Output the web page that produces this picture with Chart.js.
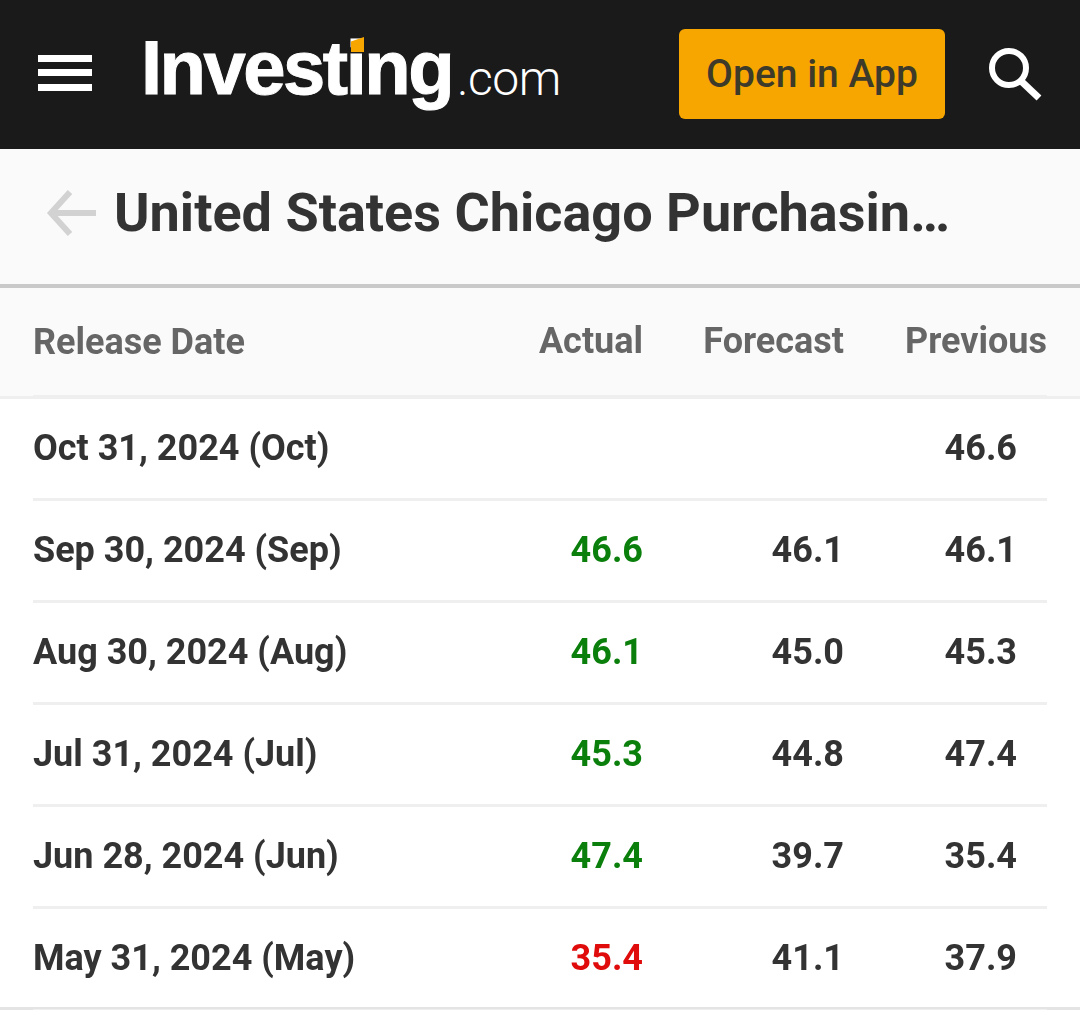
<!DOCTYPE html>
<html><head><meta charset="utf-8">
<script src="https://cdn.jsdelivr.net/npm/chart.js@4"></script>
<style>
html,body{margin:0;padding:0;background:#fff;width:1080px;height:1010px;overflow:hidden;font-family:Roboto,sans-serif}
.a{position:absolute;white-space:nowrap}
#chartBox{position:absolute;left:0;top:288px;width:1080px;height:722px}
</style></head><body>
<div class="a" style="left:0;top:0;width:1080px;height:149px;background:#1a1a1a"></div>
<div class="a" style="left:38px;top:55px;width:54px;height:7px;background:#fff"></div>
<div class="a" style="left:38px;top:69px;width:54px;height:7px;background:#fff"></div>
<div class="a" style="left:38px;top:84px;width:54px;height:7px;background:#fff"></div>
<div class="a" id="logo" style="left:141px;top:23px;color:#fff;font:700 76px/90px 'Liberation Sans';letter-spacing:-2.5px;-webkit-text-stroke:1px #fff">Investing</div>
<div class="a" style="left:457px;top:44px;color:#fff;font:300 48px/70px Roboto;letter-spacing:-0.5px">.com</div>
<div class="a" style="left:351px;top:37px;width:13px;height:15px;background:#f7a600;clip-path:polygon(0 30%,100% 0,100% 100%,0 100%)"></div>
<div class="a" style="left:679px;top:29px;width:266px;height:90px;background:#f7a600;border-radius:6px;color:#3d3a2a;font:500 39px/90px Roboto;text-align:center">Open in App</div>
<svg class="a" style="left:980px;top:40px" width="70" height="70"><circle cx="29" cy="28" r="17" fill="none" stroke="#fff" stroke-width="6"/><line x1="41" y1="41" x2="59" y2="58" stroke="#fff" stroke-width="7"/></svg>
<div class="a" style="left:0;top:149px;width:1080px;height:135px;background:#fafafa"></div>
<svg class="a" style="left:44px;top:185px" width="56" height="56"><path d="M26 7 L7 28 L26 49 M7 28 H52" fill="none" stroke="#d2d2d2" stroke-width="6"/></svg>
<div class="a" style="left:114px;top:180px;color:#333;font:700 54px/66px Roboto">United States Chicago Purchasin…</div>
<div class="a" style="left:0;top:284px;width:1080px;height:4px;background:#c9c9c9"></div>
<div class="a" style="left:0;top:288px;width:1080px;height:109px;background:#fafafa"></div>
<div class="a" style="left:0;top:396px;width:1080px;height:3px;background:#efefef"></div>
<div class="a" style="left:0;top:1007px;width:1080px;height:3px;background:#e4e4e4"></div>
<div id="chartBox"><canvas id="c"></canvas></div>
<script>
const releaseDates = ["Oct 31, 2024 (Oct)","Sep 30, 2024 (Sep)","Aug 30, 2024 (Aug)","Jul 31, 2024 (Jul)","Jun 28, 2024 (Jun)","May 31, 2024 (May)"];
const columnTitles = ["Actual","Forecast","Previous"];
const columnSlots = [1,1.995,3];
const dateTitle = "Release Date";
const actual = [null,46.6,46.1,45.3,47.4,35.4];
const forecast = [null,46.1,45.0,44.8,39.7,41.1];
const previous = [46.6,46.1,45.3,47.4,35.4,37.9];

const GREEN="#0b7f0b", RED="#e00b0b", DARK="#333333";
const rowsOf = (vals,col)=>vals.map((v,i)=>v===null?null:({x:col,y:releaseDates[i]})).filter(Boolean);
const valuesOf = vals=>vals.filter(v=>v!==null);

const cellText = {
  id:"cellText",
  afterLayout(chart){
    chart.scales.y.getLabelItems().forEach(it=>{it.options.translation[1]+=2.5;});
  },
  afterDatasetsDraw(chart){
    const ctx=chart.ctx;
    chart.data.datasets.forEach((ds,di)=>{
      const meta=chart.getDatasetMeta(di);
      meta.data.forEach((el,i)=>{
        const v=ds.cellValues[i];
        let color=DARK;
        if(di===0){const f=forecast[actual.indexOf(v)]; color=v>=f?GREEN:RED;}
        ctx.save();
        ctx.font="700 36px Roboto";
        ctx.textAlign="right";
        ctx.textBaseline="middle";
        ctx.fillStyle=color;
        ctx.fillText(v.toFixed(1),el.x+ds.textShift,el.y+2.5);
        ctx.restore();
      });
    });
  }
};

new Chart(document.getElementById("c"),{
  type:"scatter",
  data:{datasets:[
    {label:columnTitles[0],data:rowsOf(actual,columnSlots[0]),cellValues:valuesOf(actual),textShift:0,pointRadius:0},
    {label:columnTitles[1],data:rowsOf(forecast,columnSlots[1]),cellValues:valuesOf(forecast),textShift:0,pointRadius:0},
    {label:columnTitles[2],data:rowsOf(previous,columnSlots[2]),cellValues:valuesOf(previous),textShift:-30,pointRadius:0}
  ]},
  options:{
    responsive:true,maintainAspectRatio:false,animation:false,
    layout:{padding:{left:33,right:33,top:0,bottom:0}},
    plugins:{legend:{display:false},tooltip:{enabled:false}},
    scales:{
      x:{
        type:"linear",position:"top",min:-2.02,max:3,
        afterBuildTicks(s){s.ticks=columnSlots.map(value=>({value}));},
        afterFit(s){s.height=109;},
        grid:{display:false},border:{display:false},
        ticks:{align:"end",padding:23,maxRotation:0,autoSkip:false,color:"#666",font:{family:"Roboto",size:36,weight:"700"},
          callback:(v)=>columnTitles[columnSlots.indexOf(v)]},
        title:{display:true,text:dateTitle,align:"start",color:"#666",font:{family:"Roboto",size:36,weight:"700"},padding:{top:35,bottom:0}}
      },
      y:{
        type:"category",labels:releaseDates,offset:true,
        afterFit(s){s.paddingTop=0;s.paddingBottom=0;},
        grid:{offset:true,color:"#efefef",lineWidth:3,drawTicks:false},
        border:{display:false},
        ticks:{mirror:true,padding:0,autoSkip:false,color:DARK,font:{family:"Roboto",size:36,weight:"700"}}
      }
    }
  },
  plugins:[cellText]
});
</script>
</body></html>
